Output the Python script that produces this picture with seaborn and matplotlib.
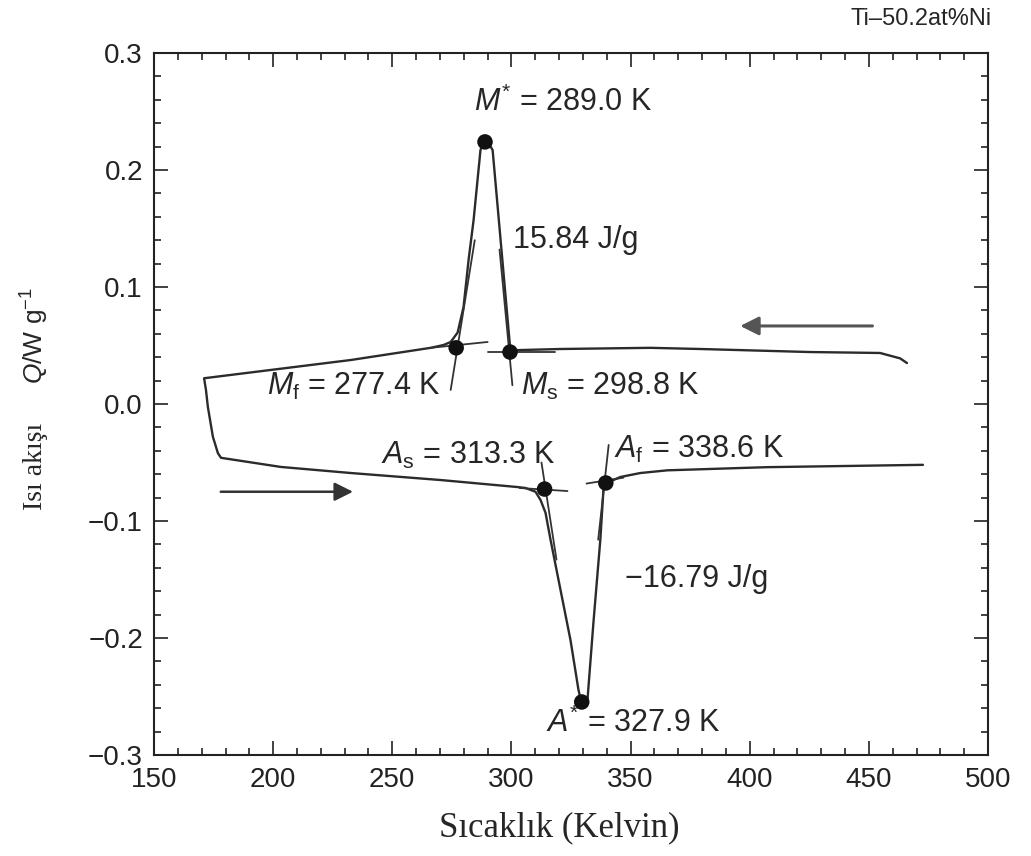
import numpy as np
import pandas as pd
import matplotlib
matplotlib.use("Agg")
import matplotlib.pyplot as plt
from matplotlib.ticker import MultipleLocator, FuncFormatter
import seaborn as sns

# ---------------- data ----------------
cool_T = [466.0, 463.1, 454.7, 425.4, 379.3, 358.3, 320.6, 301.7, 299.6, 295.8,
          292.1, 290.4, 289.1, 287.9, 287.0, 284.1, 282.0, 279.9, 277.4, 274.5,
          271.5, 266.1, 232.6, 171.0]
cool_Q = [0.035, 0.039, 0.0436, 0.0444, 0.047, 0.048, 0.047, 0.046, 0.0444, 0.132,
          0.217, 0.223, 0.224, 0.222, 0.217, 0.157, 0.123, 0.083, 0.061, 0.053,
          0.0504, 0.048, 0.0376, 0.022]

hold_T = [171.8, 172.6, 174.7, 176.8]
hold_Q = [0.012, -0.0026, -0.028, -0.042]

heat_T = [178.1, 203.2, 232.6, 270.3, 302.6, 305.9, 310.1, 312.2, 314.3, 316.4,
          320.6, 324.8, 328.1, 329.5, 331.9, 334.4, 337.3, 338.6, 339.9, 342.8,
          345.7, 354.1, 365.4, 407.3, 472.7]
heat_Q = [-0.046, -0.0538, -0.059, -0.065, -0.071, -0.0718, -0.075, -0.082, -0.093, -0.116,
          -0.159, -0.202, -0.244, -0.257, -0.253, -0.187, -0.116, -0.0735, -0.0675, -0.065,
          -0.0624, -0.059, -0.0567, -0.054, -0.052]

# characteristic points
pt_names = ["M*", "Mf", "Ms", "As", "Af", "A*"]
pt_T = [288.9, 276.8, 299.4, 313.9, 339.6, 329.5]
pt_Q = [0.224, 0.048, 0.0444, -0.0727, -0.0675, -0.2547]

# tangent construction lines (segment id, start/end)
tan_seg = ["Mf_b", "Mf_b", "Mf_s", "Mf_s", "Ms_b", "Ms_b", "Ms_s", "Ms_s",
           "As_b", "As_b", "As_s", "As_s", "Af_b", "Af_b", "Af_s", "Af_s"]
tan_T = [266.1, 290.0, 274.5, 284.6, 290.0, 318.1, 300.4, 295.0,
         303.4, 323.5, 312.6, 318.9, 331.5, 347.0, 340.8, 336.4]
tan_Q = [0.048, 0.053, 0.012, 0.140, 0.0444, 0.0444, 0.016, 0.132,
         -0.0718, -0.0744, -0.050, -0.133, -0.068, -0.063, -0.035, -0.116]

x_ticks = [150, 200, 250, 300, 350, 400, 450, 500]
y_ticks = [-0.3, -0.2, -0.1, 0.0, 0.1, 0.2, 0.3]

# ---------------- style ----------------
sns.set_style("ticks")
plt.rcParams["font.family"] = ["Liberation Sans", "DejaVu Sans"]
plt.rcParams["mathtext.fontset"] = "custom"
plt.rcParams["mathtext.rm"] = "Liberation Sans"
plt.rcParams["mathtext.it"] = "Liberation Sans:italic"
plt.rcParams["mathtext.bf"] = "Liberation Sans:bold"

fig = plt.figure(figsize=(10.31, 8.56), dpi=100)
ax = fig.add_axes([0.1494, 0.118, 0.8089, 0.8201])

trace = pd.DataFrame({
    "T": cool_T + hold_T + heat_T,
    "Q": cool_Q + hold_Q + heat_Q,
})
sns.lineplot(data=trace, x="T", y="Q", sort=False, estimator=None,
             color="#2b2b2b", lw=1.7, ax=ax)

tang = pd.DataFrame({"seg": tan_seg, "T": tan_T, "Q": tan_Q})
sns.lineplot(data=tang, x="T", y="Q", units="seg", estimator=None, sort=False,
             color="#333333", lw=1.3, ax=ax)

pts = pd.DataFrame({"name": pt_names, "T": pt_T, "Q": pt_Q})
sns.scatterplot(data=pts, x="T", y="Q", color="#111111", s=125, edgecolor="none",
                zorder=5, ax=ax)

# arrows
ax.annotate("", xy=(396.0, 0.0667), xytext=(451.5, 0.0667),
            arrowprops=dict(arrowstyle="-|>", color="#555555", lw=2.2,
                            mutation_scale=28, shrinkA=0, shrinkB=0))
ax.annotate("", xy=(233.5, -0.075), xytext=(178.0, -0.075),
            arrowprops=dict(arrowstyle="-|>", color="#333333", lw=1.8,
                            mutation_scale=28, shrinkA=0, shrinkB=0))

fs = 22
ax.text(284.1, 0.258, r"$\mathit{M}^{*}$ = 289.0 K", fontsize=fs, ha="left", va="center")
ax.text(300.5, 0.140, "15.84 J/g", fontsize=fs, ha="left", va="center")
ax.text(270.3, 0.0154, r"$\mathit{M}_{\mathrm{f}}$ = 277.4 K", fontsize=fs, ha="right", va="center")
ax.text(303.8, 0.0154, r"$\mathit{M}_{\mathrm{s}}$ = 298.8 K", fontsize=fs, ha="left", va="center")
ax.text(245.1, -0.0436, r"$\mathit{A}_{\mathrm{s}}$ = 313.3 K", fontsize=fs, ha="left", va="center")
ax.text(343.2, -0.039, r"$\mathit{A}_{\mathrm{f}}$ = 338.6 K", fontsize=fs, ha="left", va="center")
ax.text(347.6, -0.150, "\u221216.79 J/g", fontsize=fs, ha="left", va="center")
ax.text(314.3, -0.273, r"$\mathit{A}^{*}$ = 327.9 K", fontsize=fs, ha="left", va="center")

fig.text(0.962, 0.978, "Ti\u201350.2at%Ni", fontsize=17, ha="right", va="center")

# axes
ax.set_xlim(150, 500)
ax.set_ylim(-0.3, 0.3)
ax.set_xticks(x_ticks)
ax.set_yticks(y_ticks)
ax.xaxis.set_minor_locator(MultipleLocator(10))
ax.yaxis.set_minor_locator(MultipleLocator(0.02))
ax.yaxis.set_major_formatter(FuncFormatter(
    lambda v, p: ("%.1f" % (0.0 if abs(v) < 1e-9 else v)).replace("-", "\u2212")))
ax.tick_params(which="both", direction="in", top=True, right=True, width=1.2,
               labelsize=20, colors="#222222")
ax.tick_params(which="major", length=10)
ax.tick_params(axis="x", which="major", pad=9)
ax.tick_params(axis="y", which="major", pad=8)
ax.tick_params(which="minor", length=5)
for s in ax.spines.values():
    s.set_linewidth(1.5)
    s.set_color("#222222")

ax.set_xlabel("")
ax.set_ylabel("")
fig.text(0.542, 0.033, "Sıcaklık (Kelvin)", fontsize=25, family=["Liberation Serif"],
         ha="center", va="center")
fig.text(0.034, 0.455, "Isı akışı", fontsize=20, family=["Liberation Serif"],
         rotation=90, ha="center", va="center")
fig.text(0.034, 0.608, r"$\mathit{Q}$/W g$^{-1}$", fontsize=19,
         rotation=90, ha="center", va="center")

fig.savefig("out.png", dpi=100)
